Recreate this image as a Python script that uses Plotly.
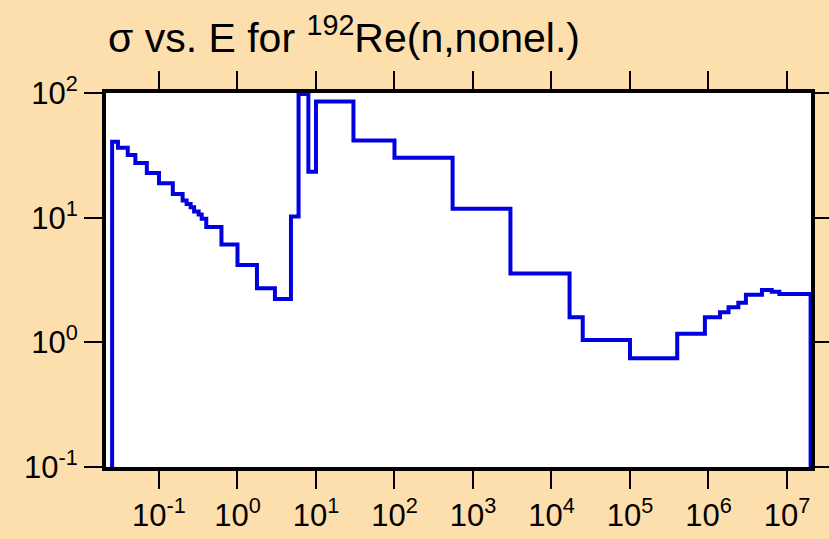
import plotly.graph_objects as go

# Lower edge of each energy group (eV) and the cross section (b) on it
energy_edges = [0.0253, 0.03, 0.04, 0.05, 0.07, 0.1, 0.15, 0.2, 0.225, 0.253,
                0.28, 0.32, 0.35, 0.4, 0.625, 1.0, 1.77, 3.0, 4.8, 6.0,
                8.0, 10.0, 30.0, 100.0, 550.0, 3000.0, 17000.0, 25000.0, 1.0e5, 4.0e5,
                9.0e5, 1.4e6, 1.8e6, 2.4e6, 3.0e6, 4.8e6, 6.4e6, 8.0e6]
sigma = [40.6, 36.4, 31.8, 27.5, 22.8, 18.9, 15.5, 13.7, 12.9, 12.1,
         11.2, 10.6, 9.8, 8.4, 6.1, 4.17, 2.72, 2.23, 10.2, 98.0,
         23.4, 85.5, 41.5, 30.3, 11.8, 3.56, 1.59, 1.045, 0.745, 1.17,
         1.59, 1.74, 1.91, 2.08, 2.41, 2.63, 2.55, 2.44]
energy_max = 2.0e7
sigma_floor = 1.0e-3  # below the visible range, draws the closing drops

x_tick_vals = [1e-1, 1e0, 1e1, 1e2, 1e3, 1e4, 1e5, 1e6, 1e7]
x_tick_text = ["10<sup>-1</sup>", "10<sup>0</sup>", "10<sup>1</sup>", "10<sup>2</sup>",
               "10<sup>3</sup>", "10<sup>4</sup>", "10<sup>5</sup>", "10<sup>6</sup>",
               "10<sup>7</sup>"]
y_tick_vals = [1e-1, 1e0, 1e1, 1e2]
y_tick_text = ["10<sup>-1</sup>", "10<sup>0</sup>", "10<sup>1</sup>", "10<sup>2</sup>"]

# Histogram outline: rise at the first edge, steps, drop at the last edge
xs = [energy_edges[0]] + energy_edges + [energy_max]
ys = [sigma_floor] + sigma + [sigma_floor]

bg = "#FDDEAD"
fig = go.Figure()
fig.add_trace(go.Scatter(
    x=xs, y=ys, mode="lines", line_shape="hv",
    line=dict(color="#0000E0", width=4),
    hoverinfo="skip", showlegend=False,
))

axis_common = dict(
    type="log", showgrid=False, zeroline=False, automargin=False,
    showline=True, linecolor="black", linewidth=4, mirror="ticks",
    ticks="outside", ticklen=18, tickwidth=2, tickcolor="black",
    tickfont=dict(family="Liberation Sans, Arial, sans-serif", size=31, color="black"),
)

fig.update_layout(
    width=829, height=539,
    margin=dict(l=106, r=18, t=93, b=72),
    paper_bgcolor=bg, plot_bgcolor="white",
    title=dict(
        text="σ vs. E for <sup>192</sup>Re(n,nonel.)",
        font=dict(family="Liberation Sans, Arial, sans-serif", size=41, color="black"),
        xref="container", x=108 / 829, xanchor="left",
        yref="container", y=1 - 38 / 539, yanchor="middle",
    ),
    xaxis=dict(range=[-1.675, 7.306], tickvals=x_tick_vals, ticktext=x_tick_text,
               **axis_common),
    yaxis=dict(range=[-1, 2], tickvals=y_tick_vals, ticktext=y_tick_text,
               **axis_common),
)

fig.write_html("out.html")
